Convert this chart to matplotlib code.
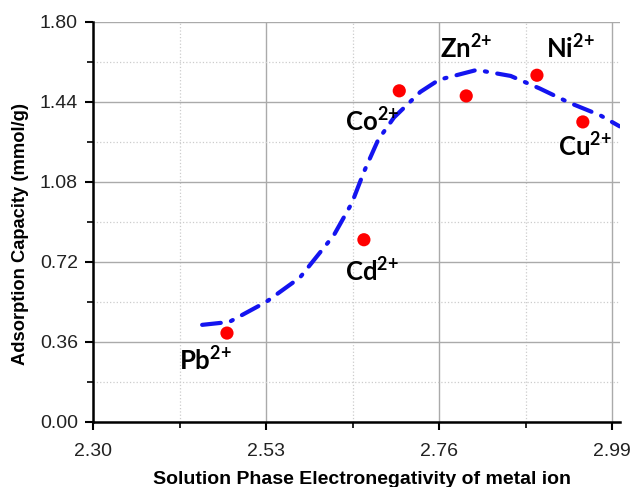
from matplotlib import pyplot as plt
from matplotlib.ticker import MultipleLocator, FormatStrFormatter

# measured ions (red dots)
ions = ["Pb", "Cd", "Co", "Zn", "Ni", "Cu"]
ion_x = [2.478, 2.660, 2.707, 2.796, 2.890, 2.951]
ion_y = [0.40, 0.82, 1.49, 1.467, 1.56, 1.35]

# fitted trend (blue dash-dot)
fit_x = [2.445, 2.481, 2.53, 2.575, 2.62, 2.644, 2.66, 2.679, 2.70, 2.735,
         2.76, 2.81, 2.855, 2.894, 2.934, 2.974, 3.0]
fit_y = [0.437, 0.45, 0.54, 0.65, 0.84, 0.985, 1.125, 1.27, 1.37, 1.485,
         1.54, 1.584, 1.557, 1.50, 1.435, 1.38, 1.33]

# label positions (data coords)
lab_x = [2.449, 2.671, 2.671, 2.796, 2.934, 2.954]
lab_y = [0.27, 0.67, 1.345, 1.674, 1.674, 1.233]

plt.rcParams['mathtext.fontset'] = 'custom'
plt.rcParams['mathtext.rm'] = 'Lato'
plt.rcParams['mathtext.bf'] = 'Lato:bold'

fig = plt.figure(figsize=(6.33, 4.87), dpi=100, facecolor="white")
ax = fig.add_axes([0.147, 0.1335, 0.832, 0.8215])

ax.plot(fit_x, fit_y, color="#1414f0", lw=3, linestyle=(0, (4.5, 2.5, 0.5, 2.5)),
        dash_capstyle="round", zorder=3)
ax.scatter(ion_x, ion_y, s=90, color="#ff0000", edgecolors="none", zorder=4)

for name, x, y in zip(ions, lab_x, lab_y):
    ax.text(x, y, r"$\mathbf{%s^{2{+}}}$" % name, fontsize=18.5, ha="center",
            va="center", zorder=5)

ax.set_xlim(2.30, 3.0)
ax.set_ylim(0, 1.80)
ax.xaxis.set_major_locator(MultipleLocator(0.23))
ax.xaxis.set_minor_locator(MultipleLocator(0.115))
ax.yaxis.set_major_locator(MultipleLocator(0.36))
ax.yaxis.set_minor_locator(MultipleLocator(0.18))
ax.xaxis.set_major_formatter(FormatStrFormatter("%.2f"))
ax.yaxis.set_major_formatter(FormatStrFormatter("%.2f"))

ax.grid(which="major", color="#aaaaaa", lw=1, ls="-")
ax.grid(which="minor", color="#cccccc", lw=0.9, ls=":")
ax.set_axisbelow(True)

ax.spines['top'].set_visible(False)
ax.spines['right'].set_visible(False)
ax.spines['left'].set_linewidth(1.8)
ax.spines['bottom'].set_linewidth(1.8)
ax.tick_params(which="major", direction="out", length=6, width=1.5)
ax.tick_params(axis="x", which="major", pad=9)
ax.tick_params(axis="y", which="major", pad=5)
ax.tick_params(which="minor", direction="out", length=4, width=1.2)
for lbl in ax.get_xticklabels() + ax.get_yticklabels():
    lbl.set_fontfamily("Liberation Sans")
    lbl.set_fontsize(14)
    lbl.set_color("#222222")

ax.set_xlabel("Solution Phase Electronegativity of metal ion", fontsize=14,
              fontweight="bold", family="Liberation Sans", va="baseline")
ax.xaxis.set_label_coords(0.51, -0.155)
ax.set_ylabel("Adsorption Capacity (mmol/g)", fontsize=13.2,
              fontweight="bold", family="Liberation Sans", va="center")
ax.yaxis.set_label_coords(-0.1385, 0.47)

plt.savefig("out.png", dpi=100)
plt.close()
